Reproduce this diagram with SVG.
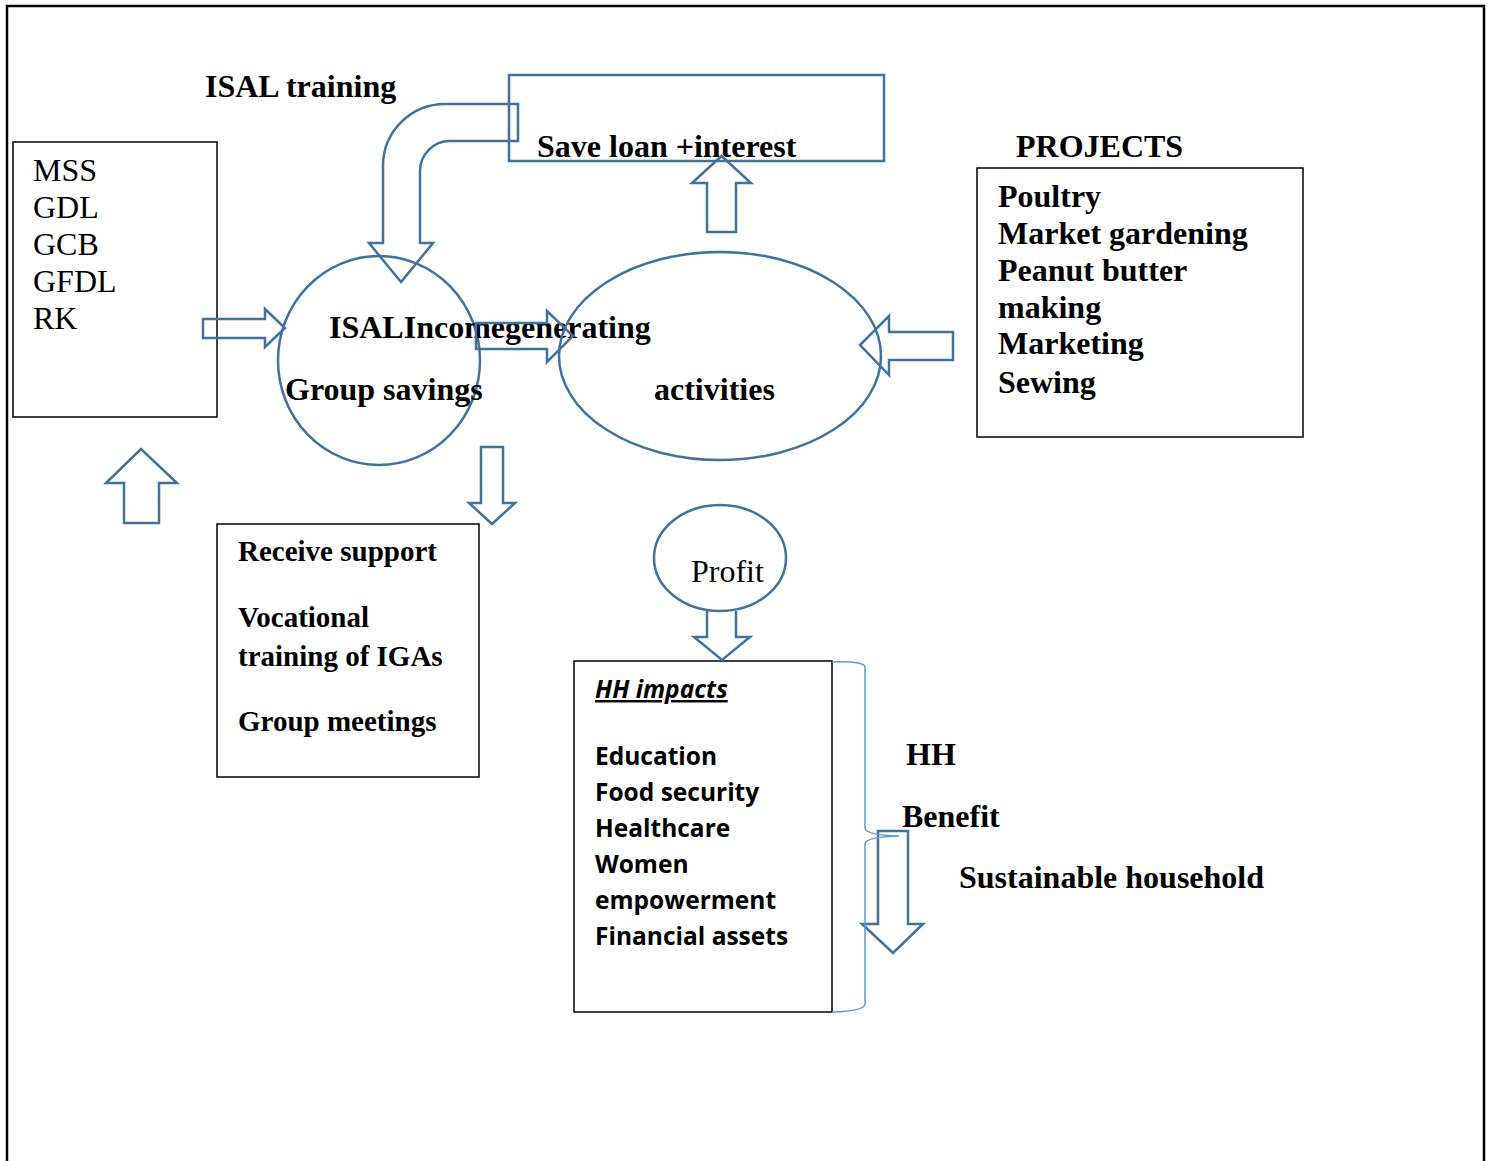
<svg xmlns="http://www.w3.org/2000/svg" width="1490" height="1161" viewBox="0 0 1490 1161">
<style>
.frame{fill:none;stroke:#000;stroke-width:2.5}
.box{fill:none;stroke:#000;stroke-width:1.5}
.blue{fill:none;stroke:#41719C;stroke-width:2.5}
.brace{fill:none;stroke:#5B9BD5;stroke-width:1.5}
.tb{font-family:"Liberation Serif","Times New Roman",serif;font-weight:bold;font-size:32px;fill:#000}
.tr{font-family:"Liberation Serif","Times New Roman",serif;font-size:32px;fill:#000}
.tb29{font-family:"Liberation Serif","Times New Roman",serif;font-weight:bold;font-size:29px;fill:#000}
.cal{font-family:"Open Sans",Lato,sans-serif;font-weight:bold;font-size:24.5px;fill:#000}
</style>
<rect width="1490" height="1161" fill="#fff"/>
<path class="frame" d="M7,1161 V6 H1484 V1161"/>

<g id="sources">
<rect class="box" x="13" y="142" width="204" height="275"/>
<text class="tr" x="33" y="181">MSS</text>
<text class="tr" x="33" y="218">GDL</text>
<text class="tr" x="33" y="255">GCB</text>
<text class="tr" x="33" y="292">GFDL</text>
<text class="tr" x="33" y="329">RK</text>
</g>

<g id="isal-training-label">
<text class="tb" x="205" y="97">ISAL training</text>
</g>

<g id="save-loan">
<rect class="blue" x="509" y="75" width="375" height="86"/>
<text class="tb" x="537" y="157">Save loan +interest</text>
</g>

<g id="group-savings">
<ellipse class="blue" cx="379" cy="360.5" rx="101" ry="104.5"/>
<text class="tb" x="329" y="338">ISALIncomegenerating</text>
<text class="tb" x="285" y="400">Group savings</text>
</g>

<g id="activities">
<ellipse class="blue" cx="720" cy="356" rx="161" ry="104"/>
<text class="tb" x="654" y="400">activities</text>
</g>

<g id="projects">
<text class="tb" x="1016" y="157">PROJECTS</text>
<rect class="box" x="977" y="168" width="326" height="269"/>
<text class="tb" x="998" y="207">Poultry</text>
<text class="tb" x="998" y="244">Market gardening</text>
<text class="tb" x="998" y="281">Peanut butter</text>
<text class="tb" x="998" y="318">making</text>
<text class="tb" x="998" y="354">Marketing</text>
<text class="tb" x="998" y="393">Sewing</text>
</g>

<g id="receive-support">
<rect class="box" x="217" y="524" width="262" height="253"/>
<text class="tb29" x="238" y="561">Receive support</text>
<text class="tb29" x="238" y="627">Vocational</text>
<text class="tb29" x="238" y="666">training of IGAs</text>
<text class="tb29" x="238" y="731">Group meetings</text>
</g>

<g id="profit">
<ellipse class="blue" cx="720" cy="558" rx="66" ry="53"/>
<text class="tr" x="691" y="582">Profit</text>
</g>

<g id="hh-impacts">
<rect class="box" x="574" y="661" width="258" height="351"/>
<text class="cal" x="595" y="698" font-style="italic" text-decoration="underline">HH impacts</text>
<text class="cal" x="595" y="765">Education</text>
<text class="cal" x="595" y="801">Food security</text>
<text class="cal" x="595" y="837">Healthcare</text>
<text class="cal" x="595" y="873">Women</text>
<text class="cal" x="595" y="909">empowerment</text>
<text class="cal" x="595" y="945">Financial assets</text>
</g>

<g id="hh-benefit">
<text class="tb" x="906" y="765">HH</text>
<text class="tb" x="902" y="827">Benefit</text>
<text class="tb" x="959" y="888">Sustainable household</text>
</g>

<g id="connectors">
<path class="blue" d="M518,104 H445 A62,62 0 0 0 383,166 V243 H369 L401,282 L433,243 H420 V171 A30,30 0 0 1 450,141 H518 Z"/>
<path class="blue" d="M707,232 V183 H692 L721.5,156 L751,183 H736 V232 Z"/>
<path class="blue" d="M203,319 H265 V309 L285,328 L265,347 V338 H203 Z"/>
<path class="blue" d="M476,323 H547 V311 L573,336 L547,362 V349 H476 Z"/>
<path class="blue" d="M481,447 H503 V503 H515 L492,524 L469,503 H481 Z"/>
<path class="blue" d="M953,332 H889 V316 L860,345 L889,375 V360 H953 Z"/>
<path class="blue" d="M124,523 V483 H106 L141,449 L177,483 H159 V523 Z"/>
<path class="blue" d="M707,611 V637 H694 L722,660 L750,637 H736 V611"/>
<path class="blue" d="M878,831 H908 V924 H923 L893,953 L862,924 H878 Z"/>
<path class="brace" d="M832,662 Q865,661 865,667 V828 Q865,835 899,836 Q865,837 865,844 V1004 Q865,1011 832,1012"/>
</g>
</svg>
